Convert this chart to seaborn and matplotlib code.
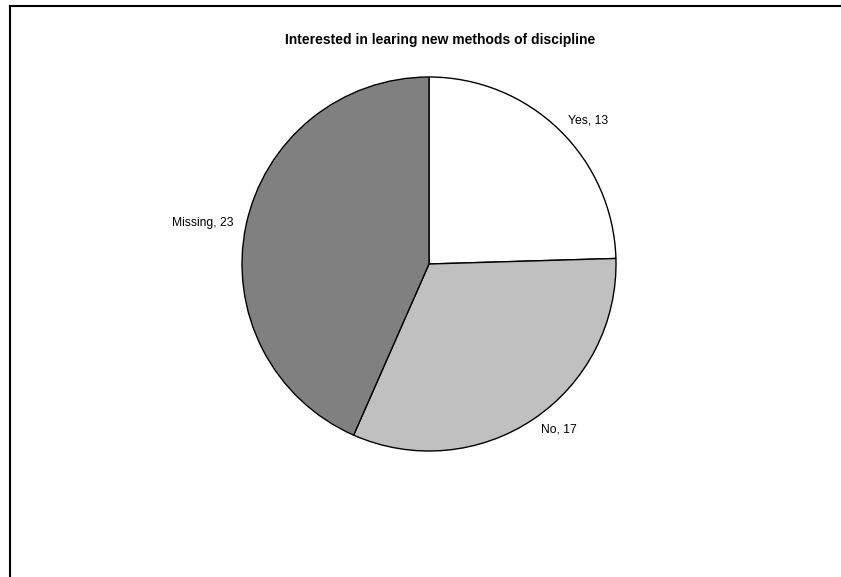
import matplotlib
matplotlib.use("Agg")
import matplotlib.pyplot as plt
from matplotlib.lines import Line2D
import seaborn as sns

# Survey responses
categories = ["Yes", "No", "Missing"]
counts = [13, 17, 23]
slice_colors = ["#ffffff", "#c0c0c0", "#808080"]
title = "Interested in learing new methods of discipline"

sns.set_theme(style="white")
plt.rcParams["font.family"] = ["Liberation Sans", "DejaVu Sans"]

W, H = 841, 577
fig = plt.figure(figsize=(W / 100, H / 100), dpi=100)
fig.patch.set_facecolor("white")

# Pie centred at (429, 264) px with radius 187 px
cx, cy, r = 429, 264, 187
ax = fig.add_axes([(cx - r) / W, (H - cy - r) / H, 2 * r / W, 2 * r / H])

labels = [f"{c}, {v}" for c, v in zip(categories, counts)]
wedges, texts = ax.pie(
    counts,
    labels=labels,
    colors=slice_colors,
    startangle=90,
    counterclock=False,
    labeldistance=1.07,
    wedgeprops=dict(edgecolor="black", linewidth=1.0),
    textprops=dict(fontsize=8.7, color="black"),
)
ax.set_xlim(-1, 1)
ax.set_ylim(-1, 1)
ax.axis("off")

fig.text(440 / W, 1 - 40 / H, title, ha="center", va="center",
         fontsize=10, fontweight="bold", color="black")

# Chart-area frame (top and left edges)
lw = 1.5
fig.add_artist(Line2D([10 / W, 1.0], [1 - 6 / H, 1 - 6 / H], color="black",
                      linewidth=lw, transform=fig.transFigure,
                      solid_capstyle="projecting"))
fig.add_artist(Line2D([10 / W, 10 / W], [1 - 6 / H, 0.0], color="black",
                      linewidth=lw, transform=fig.transFigure,
                      solid_capstyle="projecting"))

fig.savefig("out.png", dpi=100, facecolor="white")
